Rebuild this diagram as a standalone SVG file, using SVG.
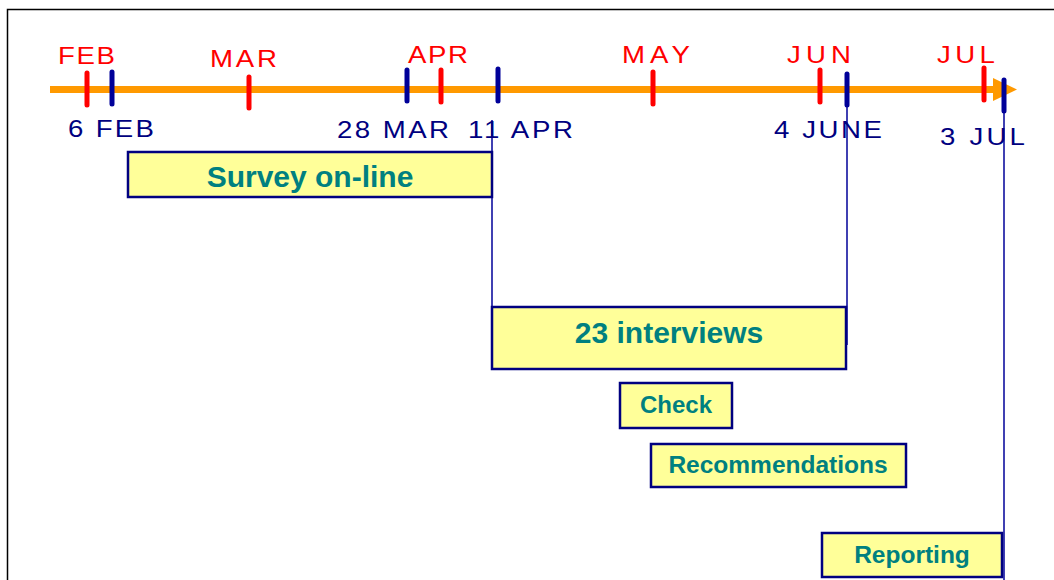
<svg xmlns="http://www.w3.org/2000/svg" width="1054" height="580" viewBox="0 0 1054 580">
<style>
.mon{font-family:"Liberation Sans",Arial,sans-serif;font-size:24px;fill:#FF0000}
.date{font-family:"Liberation Sans",Arial,sans-serif;font-size:24px;fill:#000080}
.box{fill:#FFFF99;stroke:#000080;stroke-width:2.5}
.lbl{font-family:"Liberation Sans",Arial,sans-serif;font-weight:bold;fill:#008080;text-anchor:middle}
.rt{stroke:#FF0000;stroke-width:5;stroke-linecap:round}
.bt{stroke:#000099;stroke-width:5;stroke-linecap:round}
.vl{stroke:#000099;stroke-width:1.5;fill:none}
</style>
<rect x="0" y="0" width="1054" height="580" fill="#FFFFFF"/>
<path d="M7.5,590 V9.5 H1060" fill="none" stroke="#000000" stroke-width="1.5"/>
<g id="axis">
<line x1="50" y1="89.5" x2="995" y2="89.5" stroke="#FF9900" stroke-width="7"/>
<polygon points="993,78 1017,89.5 993,101" fill="#FF9900"/>
</g>
<g id="connectors">
<line class="vl" x1="492" y1="120" x2="492" y2="369"/>
<line class="vl" x1="847" y1="105" x2="847" y2="345"/>
<line class="vl" x1="1004" y1="112" x2="1004" y2="580"/>
</g>
<g id="ticks">
<line class="rt" x1="87" y1="73" x2="87" y2="105"/>
<line class="bt" x1="112" y1="72" x2="112" y2="104"/>
<line class="rt" x1="249" y1="77" x2="249" y2="108"/>
<line class="bt" x1="407" y1="70" x2="407" y2="101"/>
<line class="rt" x1="441" y1="70" x2="441" y2="102"/>
<line class="bt" x1="498" y1="69" x2="498" y2="101"/>
<line class="rt" x1="653" y1="72" x2="653" y2="104"/>
<line class="rt" x1="820" y1="70" x2="820" y2="102"/>
<line class="bt" x1="847" y1="74" x2="847" y2="105"/>
<line class="rt" x1="984" y1="68" x2="984" y2="100"/>
<line class="bt" x1="1004" y1="80" x2="1004" y2="111"/>
</g>
<g id="months">
<text class="mon" transform="translate(58,64) scale(1.15,1)" textLength="49.6" lengthAdjust="spacing">FEB</text>
<text class="mon" transform="translate(210,67) scale(1.15,1)" textLength="58.3" lengthAdjust="spacing">MAR</text>
<text class="mon" transform="translate(408,63) scale(1.15,1)" textLength="52.2" lengthAdjust="spacing">APR</text>
<text class="mon" transform="translate(622,63) scale(1.15,1)" textLength="59.1" lengthAdjust="spacing">MAY</text>
<text class="mon" transform="translate(787,63) scale(1.15,1)" textLength="55.7" lengthAdjust="spacing">JUN</text>
<text class="mon" transform="translate(937,63) scale(1.15,1)" textLength="50.4" lengthAdjust="spacing">JUL</text>
</g>
<g id="dates">
<text class="date" transform="translate(68,137) scale(1.15,1)" textLength="74.8" lengthAdjust="spacing">6 FEB</text>
<text class="date" transform="translate(337,138) scale(1.15,1)" textLength="97.4" lengthAdjust="spacing">28 MAR</text>
<text class="date" transform="translate(468,138) scale(1.15,1)" textLength="91.3" lengthAdjust="spacing">11 APR</text>
<text class="date" transform="translate(774,138) scale(1.15,1)" textLength="93.9" lengthAdjust="spacing">4 JUNE</text>
<text class="date" transform="translate(940,145) scale(1.15,1)" textLength="73.9" lengthAdjust="spacing">3 JUL</text>
</g>
<g id="survey">
<rect class="box" x="128" y="152" width="364" height="45"/>
<text class="lbl" x="310" y="187" font-size="30">Survey on-line</text>
</g>
<g id="interviews">
<rect class="box" x="492" y="307" width="354" height="62"/>
<text class="lbl" x="669" y="343" font-size="30">23 interviews</text>
</g>
<g id="check">
<rect class="box" x="620" y="383" width="112" height="45"/>
<text class="lbl" x="676" y="413" font-size="24">Check</text>
</g>
<g id="recommendations">
<rect class="box" x="651" y="444" width="255" height="43"/>
<text class="lbl" x="778" y="473" font-size="24.5">Recommendations</text>
</g>
<g id="reporting">
<rect class="box" x="822" y="533" width="180" height="44"/>
<text class="lbl" x="912" y="563" font-size="24.5">Reporting</text>
</g>
</svg>
